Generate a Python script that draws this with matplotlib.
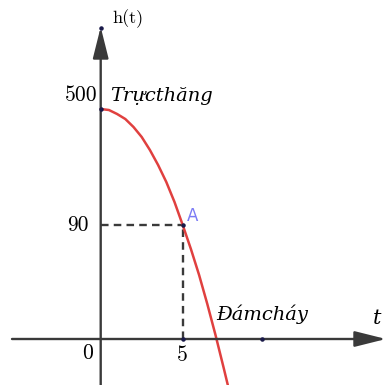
import matplotlib.pyplot as plt

# curve h(t) (t in seconds, y in drawing levels)
t_vals = [0.0, 0.5, 1.0, 1.5, 2.0, 2.5, 3.0, 3.5, 4.0, 4.5, 5.0,
          5.5, 6.0, 6.5, 7.0, 7.5, 7.75]
y_vals = [230, 229, 225, 220, 212, 202, 189, 174, 157, 137, 114,
          90, 64, 35, 4, -29, -46]

# tick labels on the axes and where they sit
h_labels = ["500", "90"]
h_levels = [230, 114]
t_labels = ["0", "5"]
t_ticks = [0, 5]

point_a = (5.0, 114)
extra_dot_t = 9.84

PX = 16.4  # pixels per t unit
X0 = 100.7
Y0 = 339


def tx(px):
    return (px - X0) / PX


def ty(py):
    return Y0 - py


fig = plt.figure(figsize=(3.86, 3.85), dpi=100)
ax = fig.add_axes([0, 0, 1, 1])
ax.axis('off')
ax.set_xlim(tx(0), tx(386))
ax.set_ylim(ty(385), ty(0))

axis_col = '#3a3a3a'
head = '-|>,head_length=1.2,head_width=0.3'
# x axis
ax.annotate('', xy=(tx(386), 0), xytext=(tx(12), 0),
            arrowprops=dict(arrowstyle=head, mutation_scale=16, lw=1.7,
                            color=axis_col, shrinkA=0, shrinkB=0))
# y axis
ax.annotate('', xy=(0, ty(27)), xytext=(0, ty(385)),
            arrowprops=dict(arrowstyle=head, mutation_scale=16, lw=1.7,
                            color=axis_col, shrinkA=0, shrinkB=0))

# dashed guides to A
ax.plot([0, point_a[0]], [point_a[1], point_a[1]], ls=(0, (3.2, 2.2)),
        color=axis_col, lw=1.7)
ax.plot([point_a[0], point_a[0]], [0, point_a[1]], ls=(0, (3.2, 2.2)),
        color=axis_col, lw=1.7)

# curve
ax.plot(t_vals, y_vals, color='#e0403f', lw=1.8, solid_capstyle='round',
        solid_joinstyle='round')

# small points
dots_x = [0, point_a[0], point_a[0], extra_dot_t, 0]
dots_y = [h_levels[0], point_a[1], 0, 0, ty(28)]
ax.scatter(dots_x, dots_y, s=5, color='#1a1a4a', zorder=5)

serif = 'cmr10'
ax.text(tx(97), ty(95), h_labels[0], family=serif, fontsize=15.5,
        ha='right', va='center')
ax.text(tx(89), h_levels[1], h_labels[1], family=serif, fontsize=15.5,
        ha='right', va='center')
ax.text(tx(93), ty(353), t_labels[0], family=serif, fontsize=15.5,
        ha='right', va='center')
ax.text(t_ticks[1], ty(355), t_labels[1], family=serif, fontsize=15.5,
        ha='center', va='center')

ax.text(tx(112), ty(19), "h(t)", family=serif, fontsize=13,
        ha='left', va='center')
ax.text(tx(377), ty(318), "t", family='DejaVu Serif', style='italic',
        fontsize=15, ha='center', va='center')

ax.text(tx(110), ty(96), "Trựcthăng", family='DejaVu Serif', style='italic',
        fontsize=14, ha='left', va='center')
ax.text(tx(216), ty(314), "Đámcháy", family='DejaVu Serif', style='italic',
        fontsize=14, ha='left', va='center')

ax.text(tx(187), ty(216), "A", color='#7b7bf5', fontsize=12,
        ha='left', va='center')

fig.savefig('out.png', dpi=100)
